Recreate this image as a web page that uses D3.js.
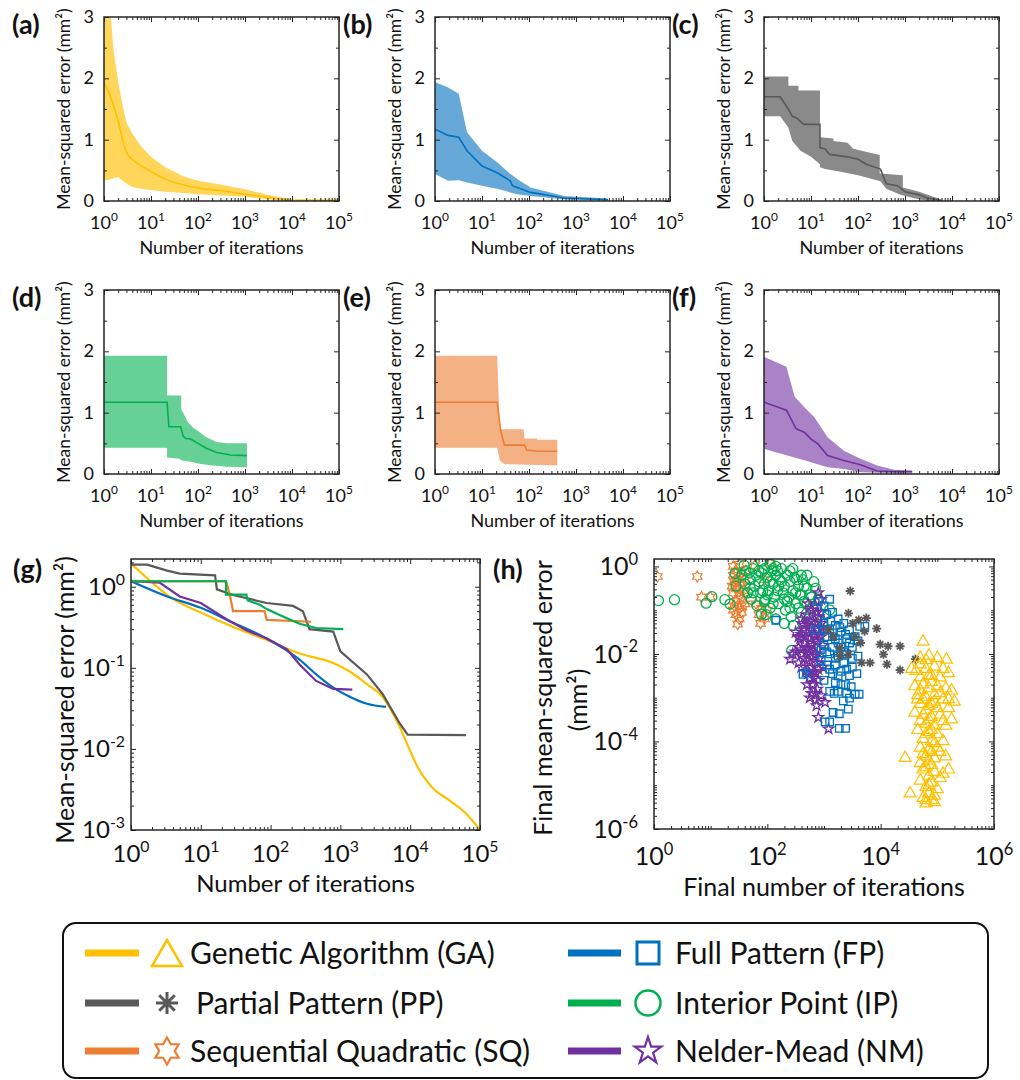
<!DOCTYPE html>
<html><head><meta charset="utf-8">
<script src="https://cdn.jsdelivr.net/npm/d3@7"></script>
<style>body{margin:0;background:#fff} text{font-family:Lato,"Open Sans",sans-serif;fill:#111}</style>
</head><body>
<svg id="chart" width="1020" height="1080" xmlns="http://www.w3.org/2000/svg"></svg>
<script>
// ---------------- DATA ----------------
const methodKeys  = ["GA","FP","PP","IP","SQ","NM"];
const methodNames = {GA:"Genetic Algorithm (GA)", FP:"Full Pattern (FP)", PP:"Partial Pattern (PP)",
                     IP:"Interior Point (IP)", SQ:"Sequential Quadratic (SQ)", NM:"Nelder-Mead (NM)"};
const panelTags = ["(a)","(b)","(c)","(d)","(e)","(f)","(g)","(h)"];
const xTickExps = [0,1,2,3,4,5];
const yTicksLin = [0,1,2,3];
const yMinorLin = [0.5,1.5,2.5];
const gYExps = [-3,-2,-1,0];
const hXExps = [0,2,4,6];
const hYExps = [-6,-4,-2,0];

// (a) GA : [iterations, MSE]
const gaUpper = [[1,3.0],[1.4,3.0],[1.6,2.45],[2,1.95],[2.5,1.55],[3,1.28],[4,1.1],[6,0.9],[10,0.72],[20,0.55],[50,0.4],[100,0.33],[300,0.27],[1000,0.19],[3000,0.1],[10000,0.025],[100000,0.02]];
const gaMean  = [[1,1.93],[1.3,1.75],[1.6,1.55],[2,1.3],[2.5,1.0],[3,0.8],[4,0.68],[6,0.58],[10,0.48],[20,0.36],[50,0.26],[100,0.21],[300,0.17],[1000,0.11],[3000,0.06],[10000,0.01],[100000,0.01]];
const gaLower = [[1,0.33],[1.3,0.35],[1.6,0.37],[2,0.39],[2.5,0.33],[3,0.28],[4,0.23],[6,0.2],[10,0.18],[20,0.15],[50,0.13],[100,0.11],[300,0.09],[1000,0.07],[3000,0.03],[10000,0.0],[100000,0.0]];
// (b) FP
const fpUpper = [[1,1.94],[1.9,1.85],[3.2,1.75],[4.8,1.12],[10,0.82],[21,0.63],[40,0.44],[44,0.42],[56,0.36],[108,0.22],[560,0.08],[4800,0.04]];
const fpMean  = [[1,1.17],[1.9,1.07],[3.2,1.04],[4.8,0.82],[10,0.57],[21,0.46],[40,0.33],[44,0.25],[56,0.22],[108,0.14],[560,0.05],[4800,0.02]];
const fpLower = [[1,0.44],[1.9,0.33],[3.2,0.34],[4.8,0.3],[10,0.25],[21,0.2],[40,0.14],[44,0.13],[56,0.11],[108,0.08],[560,0.03],[4800,0.005]];
// (c) PP
const ppUpper = [[1,2.03],[3.3,2.03],[3.3,1.88],[5.4,1.88],[5.4,1.8],[15.5,1.8],[15.5,1.04],[30,1.02],[30,0.98],[60,0.95],[79,0.85],[290,0.75],[290,0.45],[900,0.42],[900,0.22],[2000,0.15],[4800,0.05],[6000,0.01]];
const ppMean  = [[1,1.7],[2.2,1.7],[3.3,1.5],[4,1.38],[5,1.35],[7,1.25],[15.5,1.25],[15.5,0.87],[20,0.85],[25,0.76],[60,0.72],[100,0.68],[150,0.6],[300,0.52],[400,0.28],[700,0.25],[1000,0.15],[2000,0.1],[3000,0.05],[5000,0.02],[6000,0.01]];
const ppLower = [[1,1.38],[2.2,1.38],[3.3,1.2],[4,0.98],[6,0.82],[10,0.72],[15.5,0.6],[15.5,0.55],[20,0.52],[40,0.48],[100,0.42],[300,0.32],[400,0.2],[800,0.1],[1500,0.05],[3000,0.0],[6000,0.0]];
// (d) IP
const ipUpper = [[1,1.93],[22,1.93],[22,1.28],[44,1.28],[44,1.05],[50,0.98],[60,0.85],[80,0.75],[100,0.7],[150,0.6],[250,0.52],[400,0.5],[1100,0.5]];
const ipMean  = [[1,1.17],[22,1.17],[24,0.77],[43,0.77],[48,0.62],[55,0.58],[70,0.57],[100,0.5],[150,0.42],[250,0.35],[500,0.31],[1100,0.3]];
const ipLower = [[1,0.43],[22,0.43],[22,0.27],[40,0.25],[45,0.22],[70,0.2],[100,0.17],[200,0.14],[400,0.12],[1100,0.11]];
// (e) SQ
const sqUpper = [[1,1.93],[21,1.93],[24,0.73],[77,0.73],[80,0.58],[150,0.58],[150,0.56],[400,0.56]];
const sqMean  = [[1,1.17],[21,1.17],[25,0.7],[30,0.47],[80,0.47],[90,0.39],[150,0.37],[400,0.37]];
const sqLower = [[1,0.43],[21,0.43],[24,0.22],[30,0.16],[100,0.15],[400,0.14]];
// (f) NM
const nmUpper = [[1,1.91],[3,1.75],[4.5,1.26],[7.2,1.09],[11.7,0.93],[22.5,0.6],[50,0.38],[113,0.25],[255,0.14],[575,0.07],[1420,0.055]];
const nmMean  = [[1,1.17],[3,1.04],[4.8,0.74],[7.2,0.68],[10,0.57],[14,0.49],[22.5,0.3],[50,0.22],[113,0.15],[255,0.05],[575,0.04],[1420,0.04]];
const nmLower = [[1,0.41],[1.7,0.36],[4.5,0.27],[10,0.19],[22.5,0.11],[50,0.08],[113,0.03],[255,0.02],[1420,0.01]];

// (g) mean curves on log-log axes
const gGA = [[1,1.93],[2.35,1.0],[3.3,0.79],[10,0.48],[29,0.32],[88,0.22],[260,0.15],[790,0.115],[1360,0.09],[2400,0.063],[4000,0.044],[7000,0.019],[9700,0.01],[13000,0.0058],[21000,0.0033],[37000,0.0023],[63000,0.0016],[100000,0.001]];
const gFP = [[1,1.17],[3.3,0.76],[10,0.55],[29,0.36],[88,0.23],[260,0.126],[450,0.083],[790,0.057],[1360,0.044],[2400,0.036],[4500,0.033]];
const gPP = [[1,1.87],[1.7,1.87],[3.3,1.58],[5,1.45],[16,1.38],[17,0.93],[29,0.79],[88,0.63],[210,0.58],[290,0.5],[360,0.3],[790,0.28],[1000,0.16],[2400,0.083],[4000,0.048],[7000,0.021],[9200,0.015],[63000,0.0148]];
const gIP = [[1,1.17],[23,1.17],[23,0.8],[45,0.8],[47,0.68],[70,0.6],[88,0.53],[150,0.43],[260,0.35],[450,0.31],[1100,0.3]];
const gSQ = [[1,1.17],[23,1.17],[26,0.8],[29,0.5],[82,0.5],[88,0.39],[380,0.37]];
const gNM = [[1,1.17],[2.6,1.12],[5,0.76],[10,0.63],[23,0.4],[45,0.29],[88,0.23],[170,0.17],[260,0.11],[450,0.069],[790,0.055],[1480,0.054]];

// (h) final [iterations, MSE] of each run
const hSQ = [[1.15,0.59],[5.8,0.59],[6.9,0.2],[9.8,0.2],[25,1.0],[32,1.12],[28,0.79],[35,0.71],[25,0.63],[32,0.56],[40,0.5],[26,0.45],[33,0.4],[28,0.32],[38,0.28],[25,0.25],[32,0.22],[35,0.18],[28,0.16],[40,0.14],[26,0.126],[32,0.112],[35,0.089],[28,0.079],[32,0.063],[30,0.048],[24,0.355],[42,0.79],[63,0.14],[79,0.112],[71,0.079],[89,0.063],[76,0.05],[100,0.1],[112,1.17],[60,1.05],[89,0.5],[32,0.32],[28,0.5],[35,0.126],[25,0.1],[40,0.25]];
const hIP = [[1.2,0.166],[2.3,0.174],[8.3,0.145],[10.5,0.204],[17.8,0.174],[21.9,0.138],[269,0.012],[79,0.081],[288,0.045],[646,0.055],[851,0.055],[1260,0.102],[79,1.32],[39,1.07],[27,0.69],[28,0.355],[35.5,0.63],[40,0.4],[45,0.25],[42,0.79],[50,0.5],[52,0.178],[56,0.89],[63,0.63],[60,0.355],[66,0.126],[71,0.45],[76,0.25],[79,0.71],[89,0.4],[93,0.178],[100,0.56],[105,0.28],[112,0.112],[120,0.79],[126,0.4],[132,0.2],[141,0.63],[151,0.28],[158,0.141],[166,0.5],[178,0.89],[191,0.25],[200,0.355],[209,0.1],[224,0.63],[240,0.2],[251,0.45],[263,0.071],[282,0.28],[302,0.56],[316,0.141],[355,0.355],[380,0.224],[398,0.089],[417,0.5],[447,0.158],[501,0.316],[525,0.063],[562,0.224],[631,0.112],[708,0.316],[794,0.178],[501,0.63],[112,1.12],[95,0.079],[141,0.063],[200,0.05],[71,0.79],[100,0.224],[178,0.45],[251,0.79],[355,0.112],[50,0.32],[126,0.141],[224,0.158],[398,0.63],[141,1.0],[89,0.89],[316,0.25],[501,0.141],[48,0.71],[56,0.25],[83,0.28],[112,0.45],[151,0.79],[200,0.178],[282,0.89],[331,0.5],[447,0.355],[603,0.2],[661,0.45],[251,0.112],[158,0.355],[89,0.158],[126,0.89],[398,0.224]];
const hNM = [[794,0.251],[891,0.178],[708,0.126],[631,0.1],[501,0.079],[794,0.071],[398,0.063],[562,0.056],[708,0.05],[891,0.05],[447,0.045],[603,0.04],[794,0.0355],[501,0.0316],[661,0.028],[398,0.028],[891,0.025],[562,0.0224],[759,0.02],[447,0.0178],[631,0.0158],[355,0.0141],[525,0.0126],[794,0.0126],[282,0.01],[417,0.01],[631,0.0089],[251,0.0076],[501,0.0071],[759,0.0063],[355,0.0063],[603,0.005],[479,0.004],[708,0.00355],[562,0.0028],[794,0.0025],[631,0.002],[759,0.00158],[603,0.00126],[891,0.00112],[708,0.00089],[1047,0.00078],[741,0.00066],[794,0.000355],[1202,0.000195],[955,0.005],[316,0.0316],[398,0.005],[501,0.05],[708,0.025],[562,0.0112],[447,0.0079],[661,0.004],[501,0.002],[832,0.0079],[380,0.0224],[891,0.089],[525,0.141],[417,0.05],[479,0.025],[603,0.0178],[708,0.01],[501,0.0141],[398,0.0126],[832,0.028],[631,0.056],[562,0.0063],[661,0.0028],[525,0.00355],[794,0.00447],[447,0.0355],[355,0.025],[955,0.0158],[316,0.0112],[708,0.00126],[562,0.001],[891,0.04],[759,0.089]];
const hFP = [[141,0.059],[427,0.0034],[490,0.0037],[794,0.158],[1000,0.126],[1259,0.178],[1122,0.079],[1413,0.089],[1778,0.063],[1000,0.05],[1585,0.045],[2239,0.05],[1259,0.0355],[1995,0.0316],[2818,0.0355],[1122,0.025],[1585,0.0224],[2512,0.0224],[3548,0.025],[4266,0.0427],[5248,0.0427],[1000,0.0158],[1413,0.0141],[1995,0.0141],[3162,0.0141],[1259,0.01],[1778,0.0089],[2512,0.01],[3981,0.0089],[891,0.0071],[1122,0.0056],[1585,0.0056],[2239,0.0063],[3162,0.005],[1413,0.00355],[1995,0.004],[2818,0.0032],[1000,0.0025],[1585,0.0022],[2399,0.002],[3548,0.0012],[4169,0.0012],[1259,0.0014],[2188,0.00085],[2818,0.00098],[1445,0.00046],[1862,0.00043],[2692,0.00055],[1259,0.00028],[1047,0.00028],[1862,0.0002],[2399,0.0002],[708,0.0355],[891,0.0126],[1778,0.0014],[1318,0.056],[1905,0.04],[2399,0.028],[1413,0.025],[1778,0.0178],[2818,0.0178],[1122,0.0112],[1585,0.0079],[2239,0.0112],[3162,0.0079],[1259,0.00447],[1778,0.00316],[2512,0.00447],[3802,0.00355],[1995,0.002],[3020,0.00178],[3981,0.02],[1000,0.0355],[1514,0.00126],[2512,0.00126]];
const hPP = [[2900,0.275],[2700,0.085],[4100,0.06],[5600,0.066],[8500,0.038],[5200,0.033],[9800,0.0166],[13500,0.015],[22000,0.015],[11200,0.0098],[12900,0.0058],[22000,0.0043],[41000,0.0076],[4600,0.0063],[6500,0.0063],[4400,0.0178],[2700,0.0098],[1450,0.025],[1200,0.036],[1900,0.0138],[1900,0.0089],[3200,0.05],[3500,0.025]];
const hGA = [[5.6e4,2.1e-2],[5.0e4,8.9e-3],[7.1e4,1.0e-2],[1.0e5,8.9e-3],[1.45e5,8.1e-3],[3.5e4,5.0e-3],[4.2e4,4.5e-3],[6.3e4,5.0e-3],[8.9e4,5.6e-3],[1.26e5,5.0e-3],[1.58e5,4.0e-3],[5.0e4,3.2e-3],[7.9e4,3.5e-3],[1.12e5,3.2e-3],[4.0e4,2.0e-3],[5.6e4,2.2e-3],[7.1e4,1.8e-3],[1.0e5,2.0e-3],[1.41e5,1.8e-3],[1.78e5,1.6e-3],[4.5e4,1.26e-3],[6.3e4,1.12e-3],[8.9e4,1.26e-3],[1.26e5,1.0e-3],[2.0e5,8.9e-4],[5.0e4,7.9e-4],[7.1e4,7.1e-4],[1.0e5,6.3e-4],[1.58e5,6.3e-4],[4.0e4,5.0e-4],[5.6e4,4.5e-4],[7.9e4,4.0e-4],[1.12e5,4.5e-4],[1.78e5,3.5e-4],[6.3e4,2.8e-4],[8.9e4,2.5e-4],[1.41e5,2.5e-4],[4.5e4,2.0e-4],[7.1e4,1.8e-4],[1.0e5,1.6e-4],[5.6e4,1.26e-4],[7.9e4,1.12e-4],[1.26e5,1.12e-4],[5.0e4,7.9e-5],[7.1e4,7.1e-5],[1.0e5,7.9e-5],[6.3e4,5.0e-5],[8.9e4,4.5e-5],[1.41e5,5.0e-5],[2.7e4,4.6e-5],[5.0e4,3.5e-5],[7.9e4,3.2e-5],[5.6e4,2.5e-5],[8.9e4,2.2e-5],[1.58e5,2.5e-5],[7.1e4,1.8e-5],[1.12e5,1.6e-5],[5.0e4,1.4e-5],[7.9e4,1.26e-5],[6.3e4,1.0e-5],[1.0e5,8.9e-6],[3.3e4,7.1e-6],[7.1e4,7.1e-6],[5.6e4,5.6e-6],[7.9e4,5.0e-6],[6.3e4,4.2e-6],[8.9e4,4.5e-6],[6.3e4,7.9e-3],[7.9e4,2.5e-3],[5.6e4,1.0e-3],[7.9e4,7.9e-4],[7.1e4,3.5e-4],[6.3e4,1.6e-4],[8.9e4,1.0e-4],[6.3e4,2.8e-5],[7.9e4,6.3e-5],[5.0e4,6.3e-3],[7.1e4,3.5e-3],[1.12e5,1.4e-3],[5.0e4,1.6e-3],[8.9e4,8.9e-4],[6.3e4,5.6e-4],[1.26e5,3.2e-4],[5.0e4,3.2e-4],[7.9e4,2.0e-4],[1.12e5,6.3e-5],[5.6e4,5.6e-5],[7.1e4,4.0e-5],[1.26e5,2.0e-5],[7.1e4,1.12e-5],[8.9e4,6.3e-6],[6.3e4,5.0e-6],[4.5e4,1.0e-3],[1.58e5,1.0e-3]];

// ---------------- STYLE / LAYOUT ----------------
const colors = {GA:"#FFC000", FP:"#0070C0", PP:"#595959", IP:"#00B050", SQ:"#ED7D31", NM:"#7030A0"};
const bandOpacity = {GA:0.65, FP:0.6, PP:0.7, IP:0.6, SQ:0.6, NM:0.6};
const smoothKeys = ["GA","FP"];
const AX = "#262626";
const svg = d3.select("#chart");

function powLabel(g, x, y, exp, size, anchor) {
  const t = g.append("text").attr("x", x).attr("y", y).attr("font-size", size).attr("text-anchor", anchor);
  t.append("tspan").text("10");
  t.append("tspan").attr("dy", -size * 0.42).attr("font-size", size * 0.66).text(exp);
  return t;
}
function isDecade(v) { const l = Math.log10(v); return Math.abs(l - Math.round(l)) < 1e-6; }

function axes(g, x, y, L, T, W, H, xMaj, xMin, yMaj, yMin) {
  const B = T + H, R = L + W;
  const mk = (axis, tx, ty) => {
    const a = g.append("g").attr("transform", `translate(${tx},${ty})`).call(axis);
    a.select(".domain").remove();
    a.selectAll("text").remove();
    a.selectAll("line").attr("stroke", AX).attr("stroke-width", 1);
  };
  mk(d3.axisBottom(x).tickValues(xMaj).tickSize(-5).tickFormat(""), 0, B);
  mk(d3.axisTop(x).tickValues(xMaj).tickSize(-5).tickFormat(""), 0, T);
  mk(d3.axisBottom(x).tickValues(xMin).tickSize(-3).tickFormat(""), 0, B);
  mk(d3.axisTop(x).tickValues(xMin).tickSize(-3).tickFormat(""), 0, T);
  mk(d3.axisLeft(y).tickValues(yMaj).tickSize(-5).tickFormat(""), L, 0);
  mk(d3.axisRight(y).tickValues(yMaj).tickSize(-5).tickFormat(""), R, 0);
  if (yMin.length) {
    mk(d3.axisLeft(y).tickValues(yMin).tickSize(-3).tickFormat(""), L, 0);
    mk(d3.axisRight(y).tickValues(yMin).tickSize(-3).tickFormat(""), R, 0);
  }
  g.append("rect").attr("x", L).attr("y", T).attr("width", W).attr("height", H)
    .attr("fill", "none").attr("stroke", AX).attr("stroke-width", 1.5);
}
function clip(id, L, T, W, H) {
  svg.append("clipPath").attr("id", id).append("rect").attr("x", L).attr("y", T).attr("width", W).attr("height", H);
  return `url(#${id})`;
}

// ---------------- PANELS a-f ----------------
const small = [
  {key:"GA", up:gaUpper, mean:gaMean, low:gaLower},
  {key:"FP", up:fpUpper, mean:fpMean, low:fpLower},
  {key:"PP", up:ppUpper, mean:ppMean, low:ppLower},
  {key:"IP", up:ipUpper, mean:ipMean, low:ipLower},
  {key:"SQ", up:sqUpper, mean:sqMean, low:sqLower},
  {key:"NM", up:nmUpper, mean:nmMean, low:nmLower}
];
const colLeft = [104, 435, 764], rowTop = [17, 290], SW = 235, SH = 184;
small.forEach((p, i) => {
  const L = colLeft[i % 3], T = rowTop[Math.floor(i / 3)], B = T + SH;
  const g = svg.append("g");
  const x = d3.scaleLog().domain([1, 1e5]).range([L, L + SW]);
  const y = d3.scaleLinear().domain([0, 3]).range([B, T]);
  const cp = clip("c" + i, L, T, SW, SH);
  const line = d3.line().x(d => x(d[0])).y(d => y(d[1]));
  const curveLine = d3.line().x(d => x(d[0])).y(d => y(d[1]))
    .curve(p.key === "GA" ? d3.curveMonotoneX : d3.curveLinear);
  g.append("path").attr("clip-path", cp)
    .attr("d", line(p.up.concat(p.low.slice().reverse())) + "Z")
    .attr("fill", colors[p.key]).attr("fill-opacity", bandOpacity[p.key]).attr("stroke", "none");
  g.append("path").attr("clip-path", cp).attr("d", curveLine(p.mean))
    .attr("fill", "none").attr("stroke", colors[p.key]).attr("stroke-width", 1.6);
  const xMaj = xTickExps.map(e => Math.pow(10, e));
  const xMin = x.ticks().filter(v => !isDecade(v));
  axes(g, x, y, L, T, SW, SH, xMaj, xMin, yTicksLin, yMinorLin);
  xTickExps.forEach(e => powLabel(g, x(Math.pow(10, e)), B + 28, e, 18, "middle"));
  yTicksLin.forEach(v => g.append("text").attr("x", L - 10).attr("y", y(v) + 6)
    .attr("font-size", 18).attr("text-anchor", "end").text(v));
  g.append("text").attr("x", L + SW / 2).attr("y", B + 53).attr("font-size", 18)
    .attr("text-anchor", "middle").text("Number of iterations");
  g.append("text").attr("transform", `translate(${L - 40},${T + SH / 2}) rotate(-90)`)
    .attr("dy", "0.35em").attr("font-size", 17.5).attr("text-anchor", "middle").text("Mean-squared error (mm²)");
  g.append("text").attr("x", L - 92).attr("y", T + 17).attr("font-size", 27)
    .attr("font-weight", "bold").text(panelTags[i]);
});

// ---------------- PANEL g ----------------
(function () {
  const L = 131, T = 559, W = 349, H = 271, B = T + H;
  const g = svg.append("g");
  const x = d3.scaleLog().domain([1, 1e5]).range([L, L + W]);
  const y = d3.scaleLog().domain([1e-3, 2.2]).range([B, T]);
  const cp = clip("cg", L, T, W, H);
  [["GA", gGA], ["FP", gFP], ["PP", gPP], ["NM", gNM], ["SQ", gSQ], ["IP", gIP]].forEach(([k, d]) => {
    const line = d3.line().x(p => x(p[0])).y(p => y(p[1]))
      .curve(smoothKeys.includes(k) ? d3.curveMonotoneX : d3.curveLinear);
    g.append("path").attr("clip-path", cp).attr("d", line(d)).attr("fill", "none")
      .attr("stroke", colors[k]).attr("stroke-width", 2.2);
  });
  const xMaj = xTickExps.map(e => Math.pow(10, e));
  const xMin = x.ticks().filter(v => !isDecade(v));
  const yMaj = gYExps.map(e => Math.pow(10, e));
  const yMin = y.ticks().filter(v => !isDecade(v));
  axes(g, x, y, L, T, W, H, xMaj, xMin, yMaj, yMin);
  xTickExps.forEach(e => powLabel(g, x(Math.pow(10, e)), B + 32, e, 24, "middle"));
  gYExps.forEach(e => powLabel(g, L - 6, y(Math.pow(10, e)) + 8, e, 24, "end"));
  g.append("text").attr("x", L + W / 2).attr("y", B + 62).attr("font-size", 24)
    .attr("text-anchor", "middle").text("Number of iterations");
  g.append("text").attr("transform", `translate(65,700) rotate(-90)`)
    .attr("dy", "0.35em").attr("font-size", 25).attr("text-anchor", "middle").text("Mean-squared error (mm²)");
  g.append("text").attr("x", 13).attr("y", 579).attr("font-size", 27).attr("font-weight", "bold").text(panelTags[6]);
})();

// ---------------- MARKERS ----------------
function starPath(n, R, r) {
  let s = "";
  for (let i = 0; i < 2 * n; i++) {
    const a = -Math.PI / 2 + i * Math.PI / n, rad = i % 2 ? r : R;
    s += (i ? "L" : "M") + (rad * Math.cos(a)).toFixed(2) + "," + (rad * Math.sin(a)).toFixed(2);
  }
  return s + "Z";
}
function markerPath(key, s) {
  if (key === "GA") { const h = s * 0.866; return `M0,${-h / 2}L${s / 2},${h / 2}L${-s / 2},${h / 2}Z`; }
  if (key === "FP") { return `M${-s / 2},${-s / 2}h${s}v${s}h${-s}Z`; }
  if (key === "IP") { const r = s / 2; return `M${r},0A${r},${r} 0 1,1 ${-r},0A${r},${r} 0 1,1 ${r},0Z`; }
  if (key === "SQ") { return starPath(6, s / 2, s / 2 / Math.sqrt(3)); }
  if (key === "NM") { return starPath(5, s / 2, s / 2 * 0.382); }
  if (key === "PP") {
    const r = s / 2, d = r * 0.7071;
    return `M0,${-r}V${r}M${-r},0H${r}M${-d},${-d}L${d},${d}M${-d},${d}L${d},${-d}`;
  }
}

// ---------------- PANEL h ----------------
(function () {
  const L = 654, T = 559, W = 340, H = 270, B = T + H;
  const g = svg.append("g");
  const x = d3.scaleLog().domain([1, 1e6]).range([L, L + W]);
  const y = d3.scaleLog().domain([1e-6, 1.48]).range([B, T]);
  const cp = clip("ch", L, T, W, H);
  const sizes = {GA:12, FP:7.5, IP:10, SQ:11, NM:11, PP:9};
  const sw = {GA:1.2, FP:1.3, IP:1.3, SQ:1.2, NM:1.3, PP:1.8};
  [["SQ", hSQ], ["IP", hIP], ["NM", hNM], ["FP", hFP], ["PP", hPP], ["GA", hGA]].forEach(([k, d]) => {
    g.append("g").attr("clip-path", cp).selectAll("path").data(d).join("path")
      .attr("transform", p => `translate(${x(p[0])},${y(p[1])})`)
      .attr("d", markerPath(k, sizes[k])).attr("fill", "none")
      .attr("stroke", colors[k]).attr("stroke-width", sw[k]);
  });
  const xMaj = hXExps.map(e => Math.pow(10, e));
  const xMin = x.ticks().filter(v => !isDecade(v) || !hXExps.includes(Math.round(Math.log10(v))));
  const yMaj = hYExps.map(e => Math.pow(10, e));
  const yMin = y.ticks().filter(v => !isDecade(v) || !hYExps.includes(Math.round(Math.log10(v))));
  axes(g, x, y, L, T, W, H, xMaj, xMin, yMaj, yMin);
  hXExps.forEach(e => powLabel(g, x(Math.pow(10, e)), B + 36, e, 25, "middle"));
  hYExps.forEach(e => powLabel(g, L - 16, y(Math.pow(10, e)) + 9, e, 25, "end"));
  g.append("text").attr("x", L + W / 2).attr("y", B + 67).attr("font-size", 25)
    .attr("text-anchor", "middle").text("Final number of iterations");
  g.append("text").attr("transform", `translate(543,${T + H / 2 + 4}) rotate(-90)`)
    .attr("dy", "0.35em").attr("font-size", 25).attr("text-anchor", "middle").text("Final mean-squared error");
  g.append("text").attr("transform", `translate(578,${T + H / 2 + 6}) rotate(-90)`)
    .attr("dy", "0.35em").attr("font-size", 25).attr("text-anchor", "middle").text("(mm²)");
  g.append("text").attr("x", 493).attr("y", 579).attr("font-size", 27).attr("font-weight", "bold").text(panelTags[7]);
})();

// ---------------- LEGEND ----------------
(function () {
  const g = svg.append("g");
  g.append("rect").attr("x", 63).attr("y", 923).attr("width", 925).attr("height", 155).attr("rx", 13)
    .attr("fill", "#fff").attr("stroke", "#111").attr("stroke-width", 2);
  const order = [["GA", 0, 0], ["PP", 0, 1], ["SQ", 0, 2], ["FP", 1, 0], ["IP", 1, 1], ["NM", 1, 2]];
  const colX = [{l0:85, l1:139, m:167, t:190}, {l0:568, l1:621, m:648, t:675}];
  const rowY = [953, 1003, 1051];
  const lsize = {GA:30, FP:22, IP:25, SQ:27, NM:28, PP:22};
  const lsw = {GA:2.5, FP:3, IP:2.5, SQ:2.2, NM:2.2, PP:3};
  order.forEach(([k, c, r]) => {
    const cx = colX[c], cy = rowY[r];
    g.append("line").attr("x1", cx.l0).attr("x2", cx.l1).attr("y1", cy).attr("y2", cy)
      .attr("stroke", colors[k]).attr("stroke-width", 7);
    g.append("path").attr("transform", `translate(${cx.m},${cy})`).attr("d", markerPath(k, lsize[k]))
      .attr("fill", "none").attr("stroke", colors[k]).attr("stroke-width", lsw[k]);
    g.append("text").attr("x", cx.t + (k === "PP" ? 6 : 0)).attr("y", cy + 11).attr("font-size", 30).text(methodNames[k]);
  });
})();
</script>
</body></html>
